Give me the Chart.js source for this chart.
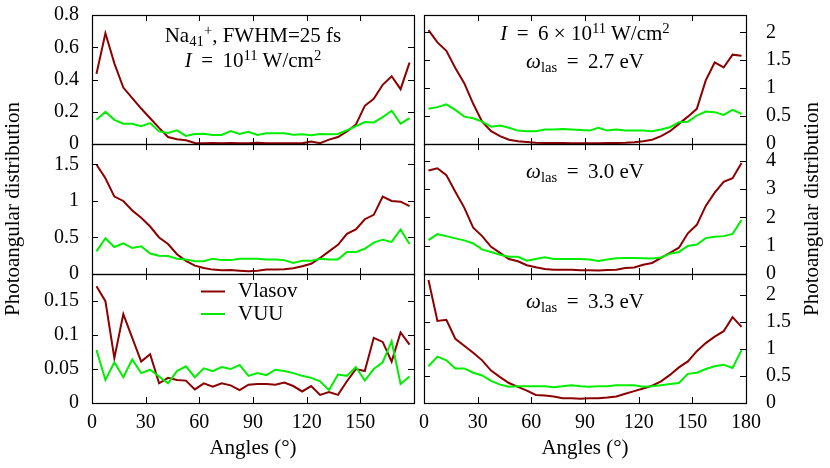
<!DOCTYPE html>
<html>
<head>
<meta charset="utf-8">
<script src="https://cdn.jsdelivr.net/npm/chart.js@4.4.1/dist/chart.umd.min.js"></script>
<style>
  body { margin: 0; background: #fff; }
  #wrap { position: relative; width: 830px; height: 468px; overflow: hidden; font-family: "Liberation Serif", serif; color: #000; }
  #wrap canvas { position: absolute; left: 0; top: 0; }
  .lbl { position: absolute; font-size: 21px; line-height: 20px; white-space: nowrap; text-align: center; }
  .lbl sub { font-size: 70%; vertical-align: -0.28em; line-height: 0; }
  .lbl sup { font-size: 70%; vertical-align: 0.5em; line-height: 0; }
  .rot { transform: rotate(-90deg); transform-origin: 50% 50%; }
</style>
</head>
<body>
<div id="wrap">
  <canvas id="c0" width="830" height="468"></canvas>
  <canvas id="c1" width="830" height="468"></canvas>
  <canvas id="c2" width="830" height="468"></canvas>
  <canvas id="c3" width="830" height="468"></canvas>
  <canvas id="c4" width="830" height="468"></canvas>
  <canvas id="c5" width="830" height="468"></canvas>

  <div class="lbl" style="left:133px;width:240px;top:25px">Na<sub>41</sub><sup>+</sup>, FWHM=25 fs</div>
  <div class="lbl" style="left:133px;width:240px;top:50px"><i>I</i>&thinsp; = &thinsp;10<sup>11</sup> W/cm<sup>2</sup></div>
  <div class="lbl" style="left:465px;width:240px;top:23px"><i>I</i>&thinsp; = &thinsp;6 × 10<sup>11</sup> W/cm<sup>2</sup></div>
  <div class="lbl" style="left:465px;width:240px;top:51px"><i>ω</i><sub>las</sub>&thinsp; = &thinsp;2.7 eV</div>
  <div class="lbl" style="left:465px;width:240px;top:161px"><i>ω</i><sub>las</sub>&thinsp; = &thinsp;3.0 eV</div>
  <div class="lbl" style="left:465px;width:240px;top:291px"><i>ω</i><sub>las</sub>&thinsp; = &thinsp;3.3 eV</div>

  <div class="lbl" style="left:153px;width:200px;top:437px">Angles (°)</div>
  <div class="lbl" style="left:485px;width:200px;top:437px">Angles (°)</div>
  <div class="lbl rot" style="left:-188px;width:400px;top:199px">Photoangular distribution</div>
  <div class="lbl rot" style="left:611px;width:400px;top:199px">Photoangular distribution</div>
</div>

<script>
// angles (deg), same for every panel
const angles = [2.5, 7.5, 12.5, 17.5, 22.5, 27.5, 32.5, 37.5, 42.5, 47.5, 52.5, 57.5,
                62.5, 67.5, 72.5, 77.5, 82.5, 87.5, 92.5, 97.5, 102.5, 107.5, 112.5, 117.5,
                122.5, 127.5, 132.5, 137.5, 142.5, 147.5, 152.5, 157.5, 162.5, 167.5, 172.5, 177.5];

// top left: Na41+, I = 1e11
const vlasovTL = [0.435, 0.687, 0.50, 0.35, 0.285, 0.22, 0.16, 0.10, 0.043, 0.03, 0.023, 0.006,
                  0.005, 0.006, 0.005, 0.006, 0.005, 0.004, 0.008, 0.005, 0.004, 0.005, 0.005, 0.004,
                  0.015, 0.005, 0.027, 0.043, 0.078, 0.12, 0.237, 0.28, 0.367, 0.42, 0.34, 0.505];
const vuuTL = [0.15, 0.20, 0.15, 0.126, 0.126, 0.11, 0.13, 0.078, 0.068, 0.085, 0.05, 0.062,
               0.064, 0.056, 0.056, 0.08, 0.062, 0.076, 0.056, 0.066, 0.066, 0.066, 0.058, 0.06,
               0.054, 0.062, 0.06, 0.062, 0.085, 0.11, 0.136, 0.134, 0.167, 0.206, 0.126, 0.16];

// top right: I = 6e11, 2.7 eV
const vlasovTR = [2.04, 1.82, 1.67, 1.36, 1.09, 0.72, 0.40, 0.23, 0.14, 0.077, 0.048, 0.036,
                  0.024, 0.02, 0.018, 0.016, 0.015, 0.015, 0.015, 0.015, 0.016, 0.018, 0.022, 0.03,
                  0.05, 0.077, 0.14, 0.23, 0.36, 0.49, 0.63, 1.14, 1.46, 1.37, 1.60, 1.58];
const vuuTR = [0.63, 0.66, 0.71, 0.61, 0.49, 0.46, 0.40, 0.31, 0.33, 0.29, 0.24, 0.23,
               0.23, 0.26, 0.26, 0.27, 0.26, 0.25, 0.24, 0.29, 0.24, 0.26, 0.24, 0.24,
               0.24, 0.23, 0.26, 0.30, 0.39, 0.40, 0.51, 0.58, 0.57, 0.52, 0.61, 0.54];

// middle left
const vlasovML = [1.50, 1.31, 1.06, 1.00, 0.87, 0.77, 0.65, 0.50, 0.41, 0.27, 0.18, 0.115,
                  0.083, 0.06, 0.05, 0.055, 0.046, 0.037, 0.046, 0.06, 0.06, 0.065, 0.078, 0.106,
                  0.14, 0.22, 0.31, 0.40, 0.55, 0.61, 0.75, 0.81, 1.06, 1.00, 0.99, 0.93];
const vuuML = [0.31, 0.49, 0.37, 0.42, 0.355, 0.38, 0.28, 0.25, 0.245, 0.21, 0.20, 0.175,
               0.175, 0.21, 0.19, 0.19, 0.21, 0.21, 0.21, 0.20, 0.20, 0.19, 0.15, 0.18,
               0.18, 0.21, 0.20, 0.20, 0.30, 0.30, 0.345, 0.43, 0.47, 0.44, 0.61, 0.41];

// middle right: 3.0 eV
const vlasovMR = [3.66, 3.74, 3.50, 2.91, 2.35, 1.64, 1.34, 0.96, 0.75, 0.53, 0.45, 0.31,
                  0.24, 0.18, 0.15, 0.15, 0.15, 0.13, 0.13, 0.12, 0.14, 0.15, 0.21, 0.23,
                  0.33, 0.39, 0.57, 0.75, 0.93, 1.44, 1.74, 2.41, 2.88, 3.26, 3.39, 3.93];
const vuuMR = [1.20, 1.41, 1.34, 1.26, 1.19, 1.08, 0.87, 0.78, 0.68, 0.61, 0.61, 0.47,
               0.53, 0.59, 0.53, 0.53, 0.53, 0.53, 0.51, 0.46, 0.51, 0.56, 0.57, 0.57,
               0.56, 0.55, 0.58, 0.72, 0.78, 0.99, 1.04, 1.27, 1.32, 1.34, 1.42, 1.91];

// bottom left
const vlasovBL = [0.172, 0.150, 0.066, 0.131, 0.096, 0.061, 0.072, 0.029, 0.037, 0.034, 0.033, 0.020,
                  0.029, 0.024, 0.029, 0.026, 0.019, 0.027, 0.028, 0.028, 0.027, 0.030, 0.025, 0.017,
                  0.025, 0.012, 0.016, 0.012, 0.032, 0.050, 0.047, 0.096, 0.090, 0.061, 0.104, 0.086];
const vuuBL = [0.078, 0.034, 0.060, 0.038, 0.064, 0.044, 0.049, 0.039, 0.029, 0.047, 0.054, 0.038,
               0.051, 0.047, 0.053, 0.050, 0.056, 0.040, 0.044, 0.041, 0.049, 0.047, 0.044, 0.040,
               0.037, 0.032, 0.019, 0.042, 0.040, 0.053, 0.033, 0.050, 0.060, 0.091, 0.028, 0.039];

// bottom right: 3.3 eV
const vlasovBR = [2.28, 1.52, 1.54, 1.19, 1.06, 0.93, 0.79, 0.60, 0.48, 0.37, 0.30, 0.23,
                  0.15, 0.14, 0.12, 0.09, 0.09, 0.08, 0.09, 0.09, 0.10, 0.12, 0.17, 0.22,
                  0.27, 0.32, 0.40, 0.52, 0.66, 0.77, 0.96, 1.11, 1.23, 1.33, 1.59, 1.41];
const vuuBR = [0.68, 0.86, 0.79, 0.64, 0.64, 0.56, 0.51, 0.41, 0.34, 0.30, 0.31, 0.31,
               0.31, 0.31, 0.29, 0.31, 0.33, 0.31, 0.30, 0.31, 0.31, 0.33, 0.33, 0.33,
               0.30, 0.31, 0.33, 0.35, 0.37, 0.54, 0.56, 0.63, 0.68, 0.71, 0.65, 0.98];

// tick values
const xTicks = [0, 30, 60, 90, 120, 150, 180];
const yTicksTL = [0, 0.2, 0.4, 0.6, 0.8];
const yTicksTR = [0, 0.5, 1, 1.5, 2];
const yTicksML = [0, 0.5, 1, 1.5];
const yTicksMR = [0, 1, 2, 3, 4];
const yTicksBL = [0, 0.05, 0.1, 0.15];
const yTicksBR = [0, 0.5, 1, 1.5, 2];

const W = 830, H = 468;
const YW = 80, XH = 40;   // room kept for tick labels
const cols = [{left: 92, right: 414}, {left: 424, right: 746}];
const rows = [{top: 15, bottom: 144}, {top: 144, bottom: 274}, {top: 274, bottom: 403}];
const red = '#8b0000', green = '#00ee00';
const font = {family: 'Liberation Serif', size: 20};

// closed frame + inward ticks on all four sides
const frame = {
  id: 'frame',
  afterDraw(chart) {
    const {ctx, chartArea: a, scales: {x, y}} = chart;
    const tl = 6;
    ctx.save();
    ctx.strokeStyle = '#000';
    ctx.lineWidth = 1;
    ctx.beginPath();
    x.ticks.forEach(t => {
      const px = Math.round(x.getPixelForValue(t.value)) + 0.5;
      ctx.moveTo(px, a.bottom); ctx.lineTo(px, a.bottom - tl);
      ctx.moveTo(px, a.top); ctx.lineTo(px, a.top + tl);
    });
    y.ticks.forEach(t => {
      const py = Math.round(y.getPixelForValue(t.value)) + 0.5;
      ctx.moveTo(a.left, py); ctx.lineTo(a.left + tl, py);
      ctx.moveTo(a.right, py); ctx.lineTo(a.right - tl, py);
    });
    ctx.stroke();
    ctx.lineWidth = 1.2;
    ctx.strokeRect(a.left + 0.5, a.top + 0.5, a.right - a.left, a.bottom - a.top);
    ctx.restore();
  }
};

// legend inside the bottom-left panel
const innerLegend = {
  id: 'innerLegend',
  afterDraw(chart) {
    const ctx = chart.ctx;
    ctx.save();
    ctx.font = '21px "Liberation Serif"';
    ctx.fillStyle = '#000';
    ctx.textBaseline = 'alphabetic';
    chart.data.datasets.forEach((ds, i) => {
      const ly = 291.5 + i * 22.5;
      ctx.strokeStyle = ds.borderColor;
      ctx.lineWidth = 2;
      ctx.beginPath();
      ctx.moveTo(201, ly); ctx.lineTo(225, ly);
      ctx.stroke();
      ctx.fillText(ds.label, 238, ly + 5.5);
    });
    ctx.restore();
  }
};

const panels = [
  {id: 'c0', col: 0, row: 0, vlasov: vlasovTL, vuu: vuuTL, ticks: yTicksTL, max: 0.8},
  {id: 'c1', col: 1, row: 0, vlasov: vlasovTR, vuu: vuuTR, ticks: yTicksTR, max: 2.31},
  {id: 'c2', col: 0, row: 1, vlasov: vlasovML, vuu: vuuML, ticks: yTicksML, max: 1.78},
  {id: 'c3', col: 1, row: 1, vlasov: vlasovMR, vuu: vuuMR, ticks: yTicksMR, max: 4.6},
  {id: 'c4', col: 0, row: 2, vlasov: vlasovBL, vuu: vuuBL, ticks: yTicksBL, max: 0.19, legend: true},
  {id: 'c5', col: 1, row: 2, vlasov: vlasovBR, vuu: vuuBR, ticks: yTicksBR, max: 2.39}
];

panels.forEach(p => {
  const c = cols[p.col], r = rows[p.row];
  const left = p.col === 0;
  new Chart(document.getElementById(p.id), {
    type: 'line',
    data: {
      datasets: [
        {label: 'Vlasov', data: angles.map((a, i) => ({x: a, y: p.vlasov[i]})),
         borderColor: red, borderWidth: 2, pointRadius: 0, fill: false, order: 1},
        {label: 'VUU', data: angles.map((a, i) => ({x: a, y: p.vuu[i]})),
         borderColor: green, borderWidth: 2, pointRadius: 0, fill: false, order: 0}
      ]
    },
    options: {
      responsive: false,
      animation: false,
      devicePixelRatio: 1,
      layout: {padding: {
        left: left ? c.left - YW : c.left,
        right: left ? W - c.right : W - c.right - YW,
        top: r.top,
        bottom: H - r.bottom - XH
      }},
      plugins: {legend: {display: false}, tooltip: {enabled: false}},
      scales: {
        x: {
          type: 'linear', min: 0, max: 180,
          grid: {display: false, drawTicks: false},
          border: {display: false},
          afterBuildTicks: s => { s.ticks = xTicks.map(v => ({value: v})); },
          afterFit: s => { s.height = XH; s.paddingLeft = 0; s.paddingRight = 0; },
          ticks: {
            display: p.row === 2, padding: 8, font: font, color: '#000',
            maxRotation: 0, autoSkip: false,
            callback: v => (left && v === 180) ? '' : String(v)
          }
        },
        y: {
          type: 'linear', position: left ? 'left' : 'right', min: 0, max: p.max,
          grid: {display: false, drawTicks: false},
          border: {display: false},
          afterBuildTicks: s => { s.ticks = p.ticks.map(v => ({value: v})); },
          afterFit: s => { s.width = YW; s.paddingTop = 0; s.paddingBottom = 0; },
          ticks: {
            padding: left ? 13 : 20, font: font, color: '#000', autoSkip: false,
            callback: v => String(+v.toFixed(2))
          }
        }
      }
    },
    plugins: p.legend ? [frame, innerLegend] : [frame]
  });
});
</script>
</body>
</html>
